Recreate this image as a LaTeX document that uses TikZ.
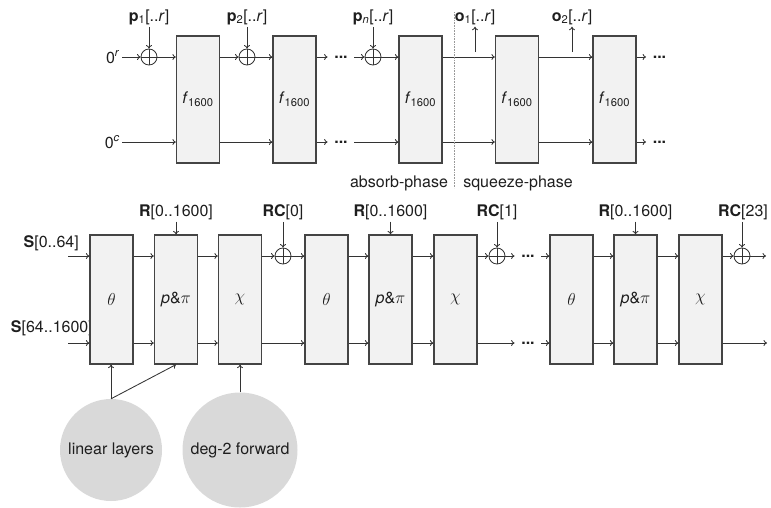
\documentclass[tikz,border=0pt]{standalone}
\usepackage{fontspec}
\setmainfont{TeX Gyre Heros}
\usetikzlibrary{arrows.meta}
\definecolor{linec}{HTML}{333333}
\definecolor{boxc}{HTML}{444444}
\definecolor{boxf}{HTML}{F2F2F2}
\definecolor{circf}{HTML}{D9D9D9}
\definecolor{txt}{HTML}{1E1E1E}
\tikzset{
  every node/.style={font=\fontsize{16}{19}\selectfont, text=txt},
  blk/.style={draw=boxc, fill=boxf, line width=1.2pt, minimum width=43pt, inner sep=0pt},
  blktop/.style={blk, minimum height=127pt},
  blkbot/.style={blk, minimum height=129pt},
  ln/.style={draw=linec, line width=0.85pt},
  arr/.style={ln, -{To[length=3.5pt,width=6pt]}},
  xorc/.style={circle, draw=linec, line width=0.85pt, minimum size=16pt, inner sep=0pt,
    path picture={\draw[linec, line width=0.85pt]
      (path picture bounding box.north) -- (path picture bounding box.south)
      (path picture bounding box.west) -- (path picture bounding box.east);}},
  lbl/.style={inner sep=2pt},
  dotsn/.style={font=\fontsize{16}{19}\selectfont\bfseries, inner ysep=0pt, inner xsep=6.5pt, anchor=base},
  bigc/.style={circle, fill=circf, inner sep=0pt},
}
\begin{document}
\begin{tikzpicture}[x=1pt, y=-1pt]
\useasboundingbox (0,0) rectangle (771,507);

% ---------- top: sponge ----------
\node[lbl, anchor=east] (l0r) at (122,57) {0\textsuperscript{\textit{r}}};
\node[lbl, anchor=east] (l0c) at (122,142) {0\textsuperscript{\textit{c}}};

\foreach \n/\x in {A1/198, A2/294.5, A3/420.5, A4/517, A5/614.5}
  \node[blktop] (\n) at (\x,99.5) {\textit{f}\textsubscript{1600}};

\node[xorc] (X1) at (149,57) {};
\node[xorc] (X2) at (247,57) {};
\node[xorc] (X3) at (373,57) {};

\node[lbl] (P1) at (149,17) {\textbf{p}\textsubscript{1}[..\textit{r}]};
\node[lbl] (P2) at (247,17) {\textbf{p}\textsubscript{2}[..\textit{r}]};
\node[lbl] (P3) at (373,17) {\textbf{p}\textsubscript{\textit{n}}[..\textit{r}]};
\node[lbl] (O1) at (475,17) {\textbf{o}\textsubscript{1}[..\textit{r}]};
\node[lbl] (O2) at (572,17) {\textbf{o}\textsubscript{2}[..\textit{r}]};

\node[dotsn] (D1) at (341,58) {...};
\node[dotsn] (D2) at (341,143) {...};
\node[dotsn] (D3) at (659.5,58) {...};
\node[dotsn] (D4) at (659.5,143) {...};

% row r
\draw[arr] (l0r.east) -- (X1.west);
\draw[arr] (X1.east) -- (A1.west |- X1);
\draw[arr] (A1.east |- X2) -- (X2.west);
\draw[arr] (X2.east) -- (A2.west |- X2);
\draw[arr] (A2.east |- X3) -- (D1.west |- X3);
\draw[arr] (D1.east |- X3) -- (X3.west);
\draw[arr] (X3.east) -- (A3.west |- X3);
\draw[arr] (A3.east |- X3) -- (A4.west |- X3);
\draw[arr] (A4.east |- X3) -- (A5.west |- X3);
\draw[arr] (A5.east |- X3) -- (D3.west |- X3);
% row c
\draw[arr] (l0c.east) -- (A1.west |- l0c.east);
\draw[arr] (A1.east |- l0c.east) -- (A2.west |- l0c.east);
\draw[arr] (A2.east |- l0c.east) -- (D2.west |- l0c.east);
\draw[arr] (D2.east |- l0c.east) -- (A3.west |- l0c.east);
\draw[arr] (A3.east |- l0c.east) -- (A4.west |- l0c.east);
\draw[arr] (A4.east |- l0c.east) -- (A5.west |- l0c.east);
\draw[arr] (A5.east |- l0c.east) -- (D4.west |- l0c.east);

% message inputs
\draw[arr] (X1.north |- P1.south) -- (X1.north);
\draw[arr] (X2.north |- P2.south) -- (X2.north);
\draw[arr] (X3.north |- P3.south) -- (X3.north);
% outputs
\coordinate (o1s) at (475,52);
\coordinate (o2s) at (572,52);
\draw[arr] (o1s) -- (o1s |- O1.south);
\draw[arr] (o2s) -- (o2s |- O2.south);

% phase separator
\coordinate (dv1) at (454,12);
\coordinate (dv2) at (454,188);
\draw[densely dotted, draw=gray!80, line width=0.6pt] (dv1) -- (dv2);
\node (ab) at (399,183) {absorb-phase};
\node (sq) at (518,183) {squeeze-phase};

% ---------- bottom: rounds ----------
\node[lbl, anchor=east, inner sep=0pt] (S1) at (79,243) {\textbf{S}[0..64]};
\node[lbl, anchor=east, inner sep=0pt] (S2) at (93,328) {\textbf{S}[64..1600]};

\foreach \n/\x/\t in {B1/111.5/$\theta$, B4/326.5/$\theta$, B7/571.5/$\theta$,
                      B2/176/\textit{p}\&$\pi$, B5/390.5/\textit{p}\&$\pi$, B8/635.5/\textit{p}\&$\pi$,
                      B3/240/$\chi$, B6/455.5/$\chi$, B9/700.5/$\chi$}
  \node[blkbot] (\n) at (\x,299.5) {\t};

\node[xorc] (Y1) at (283,256) {};
\node[xorc] (Y2) at (497,256) {};
\node[xorc] (Y3) at (742,256) {};

\node[lbl] (R1) at (176,212) {\textbf{R}[0..1600]};
\node[lbl] (R2) at (390.5,212) {\textbf{R}[0..1600]};
\node[lbl] (R3) at (635.5,212) {\textbf{R}[0..1600]};
\node[lbl] (C1) at (283,212) {\textbf{RC}[0]};
\node[lbl] (C2) at (497,212) {\textbf{RC}[1]};
\node[lbl] (C3) at (743,212) {\textbf{RC}[23]};

\node[dotsn] (E1) at (528,257) {...};
\node[dotsn] (E2) at (528,344) {...};

\coordinate (s1) at (68,256);
\coordinate (s2) at (68,343);
\coordinate (t1) at (766,256);
\coordinate (t2) at (767,343);

% upper lane
\draw[arr] (s1) -- (B1.west |- s1);
\draw[arr] (B1.east |- s1) -- (B2.west |- s1);
\draw[arr] (B2.east |- s1) -- (B3.west |- s1);
\draw[arr] (B3.east |- s1) -- (Y1.west);
\draw[arr] (Y1.east) -- (B4.west |- s1);
\draw[arr] (B4.east |- s1) -- (B5.west |- s1);
\draw[arr] (B5.east |- s1) -- (B6.west |- s1);
\draw[arr] (B6.east |- s1) -- (Y2.west);
\draw[arr] (Y2.east) -- (E1.west |- s1);
\draw[arr] (E1.east |- s1) -- (B7.west |- s1);
\draw[arr] (B7.east |- s1) -- (B8.west |- s1);
\draw[arr] (B8.east |- s1) -- (B9.west |- s1);
\draw[arr] (B9.east |- s1) -- (Y3.west);
\draw[arr] (Y3.east) -- (t1);
% lower lane
\draw[arr] (s2) -- (B1.west |- s2);
\draw[arr] (B1.east |- s2) -- (B2.west |- s2);
\draw[arr] (B2.east |- s2) -- (B3.west |- s2);
\draw[arr] (B3.east |- s2) -- (B4.west |- s2);
\draw[arr] (B4.east |- s2) -- (B5.west |- s2);
\draw[arr] (B5.east |- s2) -- (B6.west |- s2);
\draw[arr] (B6.east |- s2) -- (E2.west |- s2);
\draw[arr] (E2.east |- s2) -- (B7.west |- s2);
\draw[arr] (B7.east |- s2) -- (B8.west |- s2);
\draw[arr] (B8.east |- s2) -- (B9.west |- s2);
\draw[arr] (B9.east |- s2) -- (t2);

% round key / constant inputs
\draw[arr] (B2.north |- R1.south) -- (B2.north);
\draw[arr] (B5.north |- R2.south) -- (B5.north);
\draw[arr] (B8.north |- R3.south) -- (B8.north);
\draw[arr] (Y1.north |- C1.south) -- (Y1.north);
\draw[arr] (Y2.north |- C2.south) -- (Y2.north);
\draw[arr] (Y3.north |- C3.south) -- (Y3.north);

% layer groups
\node[bigc, minimum size=102pt] (LL) at (111,450) {linear layers};
\node[bigc, minimum size=115pt] (DF) at (240,450) {deg-2 forward};
\draw[arr] (LL.north) -- (LL.north |- B1.south);
\draw[arr] (LL.north) -- (B2.south);
\draw[arr] (DF.north) -- (DF.north |- B3.south);
\end{tikzpicture}
\end{document}
